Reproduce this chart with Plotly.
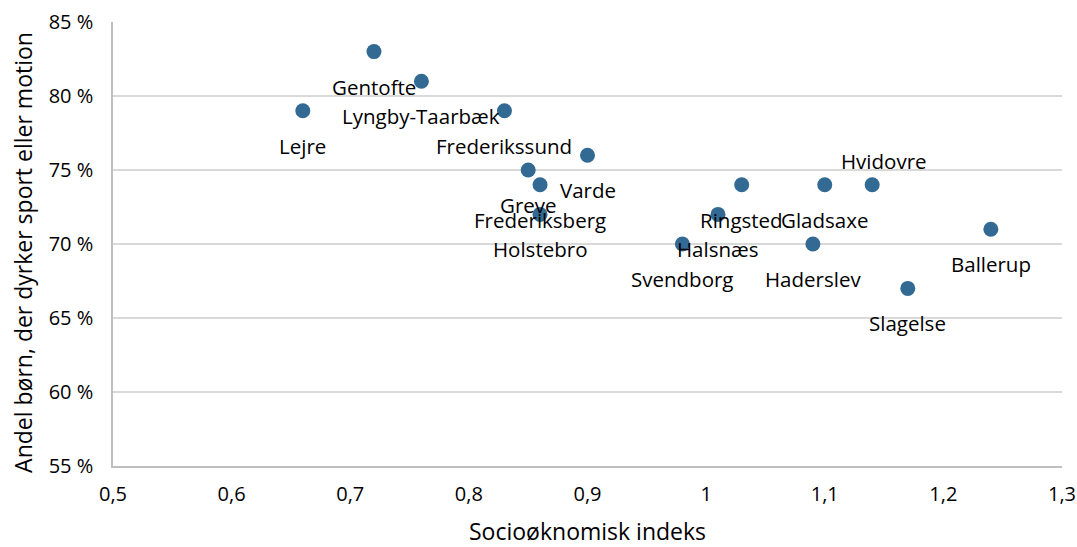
import plotly.graph_objects as go

kommuner = ["Lejre", "Gentofte", "Lyngby-Taarbæk", "Frederikssund", "Varde", "Greve",
            "Frederiksberg", "Holstebro", "Ringsted", "Halsnæs", "Svendborg", "Gladsaxe",
            "Haderslev", "Hvidovre", "Ballerup", "Slagelse"]
indeks = [0.66, 0.72, 0.76, 0.83, 0.90, 0.85, 0.86, 0.86, 1.03, 1.01, 0.98, 1.10, 1.09, 1.14, 1.24, 1.17]
andel = [79, 83, 81, 79, 76, 75, 74, 72, 74, 72, 70, 74, 70, 74, 71, 67]

x_tickvals = [0.5, 0.6, 0.7, 0.8, 0.9, 1.0, 1.1, 1.2, 1.3]
x_ticktext = ["0,5", "0,6", "0,7", "0,8", "0,9", "1", "1,1", "1,2", "1,3"]
y_tickvals = [55, 60, 65, 70, 75, 80, 85]
y_ticktext = ["55 %", "60 %", "65 %", "70 %", "75 %", "80 %", "85 %"]

FONT = "Open Sans"
fig = go.Figure()
fig.add_trace(go.Scatter(
    x=indeks, y=andel, mode="markers",
    marker=dict(size=15, color="#336A93"),
    hoverinfo="skip", showlegend=False, cliponaxis=False,
))

for name, xv, yv in zip(kommuner, indeks, andel):
    if name == "Hvidovre":
        xs, ys = 12, 24
    else:
        xs, ys = 0, -35
    fig.add_annotation(x=xv, y=yv, text=name, showarrow=False,
                       xshift=xs, yshift=ys, xanchor="center", yanchor="middle",
                       font=dict(family=FONT, size=20.5, color="#000000"))

# axis titles
fig.add_annotation(xref="paper", yref="paper", x=0.5, y=0, yshift=-65,
                   text="Socioøknomisk indeks", showarrow=False,
                   xanchor="center", yanchor="middle",
                   font=dict(family=FONT, size=23, color="#000000"))
fig.add_annotation(xref="paper", yref="paper", x=0, y=0.48, xshift=-90,
                   text="Andel børn, der dyrker sport eller motion", showarrow=False,
                   textangle=-90, xanchor="center", yanchor="middle",
                   font=dict(family=FONT, size=23, color="#000000"))

fig.update_layout(
    width=1077, height=547,
    margin=dict(l=113, r=15, t=22, b=81),
    paper_bgcolor="white", plot_bgcolor="white",
    font=dict(family=FONT, size=20, color="#000000"),
    xaxis=dict(range=[0.5, 1.3], tickvals=x_tickvals, ticktext=x_ticktext, automargin=False,
               showgrid=False, zeroline=False, showline=True, linecolor="#BFBFBF", linewidth=1.5,
               ticks="outside", ticklen=9, tickcolor="rgba(0,0,0,0)", tickfont=dict(size=20)),
    yaxis=dict(range=[55, 85], tickvals=y_tickvals, ticktext=y_ticktext, automargin=False,
               showgrid=True, gridcolor="#D9D9D9", gridwidth=1.5, zeroline=False,
               showline=True, linecolor="#BFBFBF", linewidth=1.5,
               ticks="outside", ticklen=14, tickcolor="rgba(0,0,0,0)", tickfont=dict(size=20)),
)

fig.write_html("out.html", config={"displayModeBar": False},
               post_script="document.body.style.margin='0';")
